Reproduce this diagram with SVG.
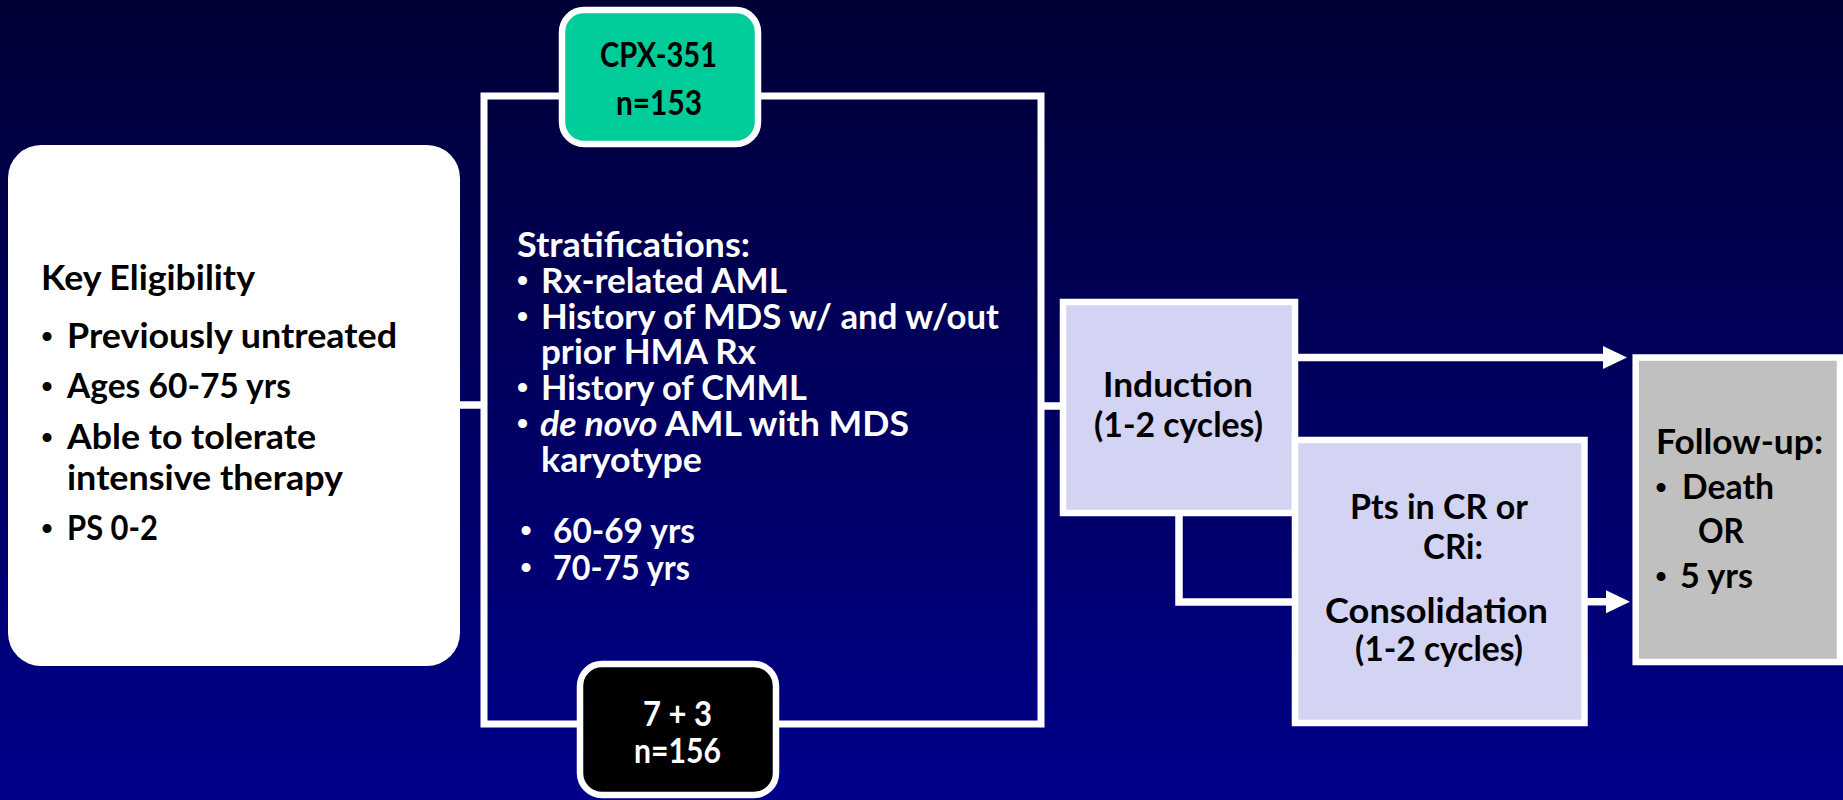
<svg xmlns="http://www.w3.org/2000/svg" width="1843" height="800" viewBox="0 0 1843 800">
  <defs>
    <linearGradient id="bg" x1="0" y1="0" x2="0" y2="1">
      <stop offset="0" stop-color="#000035"/>
      <stop offset="1" stop-color="#00008B"/>
    </linearGradient>
    <marker id="arrow" markerUnits="userSpaceOnUse" markerWidth="26" markerHeight="24" viewBox="0 -12 26 24" refX="2" refY="0" orient="auto" overflow="visible">
      <path d="M0,-11.5 L24,0 L0,11.5 Z" fill="#FFFFFF"/>
    </marker>
    <style>
      .t { font-family: Lato, "Liberation Sans", sans-serif; font-weight: bold; font-size: 34px; }
      .dk { fill: #000000; }
      .lt { fill: #FFFFFF; }
      .b { font-family: "Liberation Sans", sans-serif; font-size: 33px; }
      .ln { stroke: #FFFFFF; stroke-width: 7.5; fill: none; }
      .box { stroke: #FFFFFF; stroke-width: 6.5; }
      .lav { fill: #D3D3F4; }
    </style>
  </defs>

  <rect x="0" y="0" width="1843" height="800" fill="url(#bg)"/>

  <g id="connectors">
    <line class="ln" x1="458" y1="405" x2="482" y2="405"/>
    <line class="ln" x1="1043" y1="406" x2="1062" y2="406"/>
    <line class="ln" x1="1296" y1="357.5" x2="1605" y2="357.5" marker-end="url(#arrow)"/>
    <path class="ln" d="M1179,512 V602 H1294"/>
    <line class="ln" x1="1586" y1="601.7" x2="1608" y2="601.7" marker-end="url(#arrow)"/>
  </g>

  <g id="eligibility">
    <rect x="8" y="145" width="452" height="521" rx="33" ry="33" fill="#FFFFFF"/>
    <text class="t dk" x="41" y="290" textLength="214" lengthAdjust="spacingAndGlyphs">Key Eligibility</text>
    <text class="b dk" x="47" y="348" text-anchor="middle">•</text>
    <text class="t dk" x="67" y="348" textLength="330" lengthAdjust="spacingAndGlyphs">Previously untreated</text>
    <text class="b dk" x="47" y="398" text-anchor="middle">•</text>
    <text class="t dk" x="67" y="398" textLength="224" lengthAdjust="spacingAndGlyphs">Ages 60-75 yrs</text>
    <text class="b dk" x="47" y="449" text-anchor="middle">•</text>
    <text class="t dk" x="67" y="449" textLength="249" lengthAdjust="spacingAndGlyphs">Able to tolerate</text>
    <text class="t dk" x="67" y="489.5" textLength="276" lengthAdjust="spacingAndGlyphs">intensive therapy</text>
    <text class="b dk" x="47" y="540" text-anchor="middle">•</text>
    <text class="t dk" x="67" y="540" textLength="91" lengthAdjust="spacingAndGlyphs">PS 0-2</text>
  </g>

  <g id="randomization">
    <rect x="484" y="96" width="557" height="628" fill="none" stroke="#FFFFFF" stroke-width="7"/>
    <text class="t lt" x="517" y="257" textLength="233" lengthAdjust="spacingAndGlyphs">Stratifications:</text>
    <text class="b lt" x="522.5" y="292" text-anchor="middle">•</text>
    <text class="t lt" x="541" y="293" textLength="246" lengthAdjust="spacingAndGlyphs">Rx-related AML</text>
    <text class="b lt" x="522.5" y="328" text-anchor="middle">•</text>
    <text class="t lt" x="541" y="329" textLength="458" lengthAdjust="spacingAndGlyphs">History of MDS w/ and w/out</text>
    <text class="t lt" x="541" y="364" textLength="215" lengthAdjust="spacingAndGlyphs">prior HMA Rx</text>
    <text class="b lt" x="522.5" y="399" text-anchor="middle">•</text>
    <text class="t lt" x="541" y="400" textLength="266" lengthAdjust="spacingAndGlyphs">History of CMML</text>
    <text class="b lt" x="522.5" y="435" text-anchor="middle">•</text>
    <text class="t lt" x="540" y="436" textLength="369" lengthAdjust="spacingAndGlyphs"><tspan font-style="italic">de novo</tspan> AML with MDS</text>
    <text class="t lt" x="541" y="472" textLength="161" lengthAdjust="spacingAndGlyphs">karyotype</text>
    <text class="b lt" x="526" y="542" text-anchor="middle">•</text>
    <text class="t lt" x="553" y="543" textLength="142" lengthAdjust="spacingAndGlyphs">60-69 yrs</text>
    <text class="b lt" x="526" y="579" text-anchor="middle">•</text>
    <text class="t lt" x="553" y="580" textLength="137" lengthAdjust="spacingAndGlyphs">70-75 yrs</text>
  </g>

  <g id="arm-cpx351">
    <rect class="box" x="562" y="10" width="196" height="134" rx="22" ry="22" fill="#00CC99"/>
    <text class="t dk" x="600" y="67" textLength="117" lengthAdjust="spacingAndGlyphs">CPX-351</text>
    <text class="t dk" x="616" y="115" textLength="86" lengthAdjust="spacingAndGlyphs">n=153</text>
  </g>

  <g id="arm-7plus3">
    <rect class="box" x="580" y="664" width="196" height="131" rx="22" ry="22" fill="#000000"/>
    <text class="t lt" x="643" y="726" textLength="69" lengthAdjust="spacingAndGlyphs">7 + 3</text>
    <text class="t lt" x="634" y="763" textLength="87" lengthAdjust="spacingAndGlyphs">n=156</text>
  </g>

  <g id="induction">
    <rect class="box lav" x="1063" y="302" width="232" height="211"/>
    <text class="t dk" x="1103" y="397" textLength="150" lengthAdjust="spacingAndGlyphs">Induction</text>
    <text class="t dk" x="1094" y="437" textLength="169" lengthAdjust="spacingAndGlyphs">(1-2 cycles)</text>
  </g>

  <g id="consolidation">
    <rect class="box lav" x="1295" y="440" width="289.5" height="283"/>
    <text class="t dk" x="1350" y="519" textLength="178" lengthAdjust="spacingAndGlyphs">Pts in CR or</text>
    <text class="t dk" x="1423" y="559" textLength="60" lengthAdjust="spacingAndGlyphs">CRi:</text>
    <text class="t dk" x="1325" y="623" textLength="223" lengthAdjust="spacingAndGlyphs">Consolidation</text>
    <text class="t dk" x="1355" y="661" textLength="168" lengthAdjust="spacingAndGlyphs">(1-2 cycles)</text>
  </g>

  <g id="followup">
    <rect class="box" x="1635.7" y="357.5" width="204.3" height="304.5" fill="#C0C0C0"/>
    <text class="t dk" x="1656" y="454" textLength="167" lengthAdjust="spacingAndGlyphs">Follow-up:</text>
    <text class="b dk" x="1661" y="499" text-anchor="middle">•</text>
    <text class="t dk" x="1682" y="499" textLength="92" lengthAdjust="spacingAndGlyphs">Death</text>
    <text class="t dk" x="1698" y="543" textLength="46" lengthAdjust="spacingAndGlyphs">OR</text>
    <text class="b dk" x="1661" y="588" text-anchor="middle">•</text>
    <text class="t dk" x="1680" y="588" textLength="73" lengthAdjust="spacingAndGlyphs">5 yrs</text>
  </g>
</svg>
